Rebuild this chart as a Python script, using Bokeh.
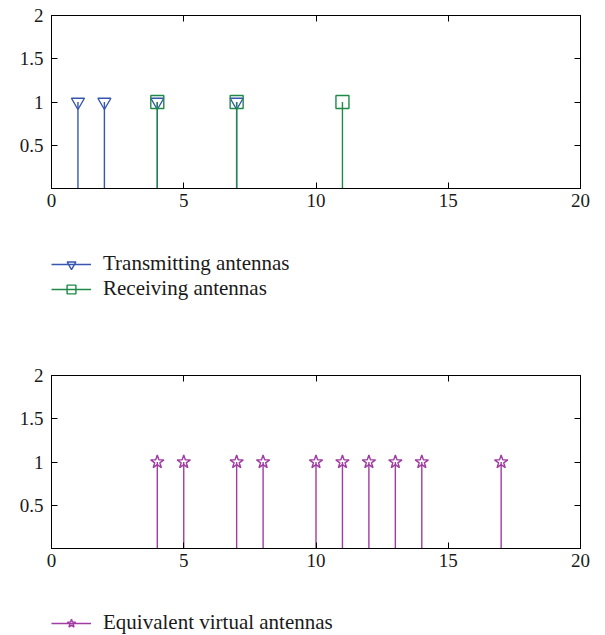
from bokeh.plotting import figure
from bokeh.models import (ColumnDataSource, Range1d, FixedTicker, LinearAxis,
                          Legend, LegendItem, NumeralTickFormatter)
from bokeh.layouts import column
from bokeh.embed import file_html
from bokeh.resources import INLINE

# ---- data ----
tx_pos = [1, 2, 4, 7]
tx_val = [1, 1, 1, 1]
rx_pos = [4, 7, 11]
rx_val = [1, 1, 1]
virt_pos = [4, 5, 7, 8, 10, 11, 12, 13, 14, 17]
virt_val = [1, 1, 1, 1, 1, 1, 1, 1, 1, 1]
x_ticks = [0, 5, 10, 15, 20]
y_ticks = [0.5, 1, 1.5, 2]

BLUE = "#3656b0"
GREEN = "#1f8a48"
PURPLE = "#a03ca2"
FONT = "Liberation Serif"
TXT = "#1a1a1a"


def make_fig(height, top, bottom):
    p = figure(width=605, height=height, output_backend="svg", toolbar_location=None,
               x_range=Range1d(0, 20), y_range=Range1d(0, 2),
               min_border_left=51, min_border_right=25,
               min_border_top=top, min_border_bottom=bottom)
    p.xgrid.visible = False
    p.ygrid.visible = False
    p.outline_line_color = "black"
    p.outline_line_width = 1
    p.background_fill_color = "white"
    p.border_fill_color = "white"
    p.xaxis.ticker = FixedTicker(ticks=x_ticks)
    p.yaxis.ticker = FixedTicker(ticks=y_ticks)
    p.yaxis.formatter = NumeralTickFormatter(format="0.[0]")
    for ax in p.xaxis + p.yaxis:
        ax.axis_line_color = "black"
        ax.major_tick_in = 6
        ax.major_tick_out = 0
        ax.major_tick_line_color = "black"
        ax.minor_tick_line_color = None
        ax.major_label_text_font = FONT
        ax.major_label_text_font_size = "19px"
        ax.major_label_text_color = TXT
    p.xaxis.major_label_standoff = 5
    p.yaxis.major_label_standoff = 8
    for ticks, side in ((x_ticks, "above"), (y_ticks, "right")):
        ax = LinearAxis(ticker=FixedTicker(ticks=ticks), major_tick_in=6, major_tick_out=0,
                        minor_tick_line_color=None, major_label_text_font_size="4px",
                        major_label_text_color=None, major_label_standoff=0,
                        axis_line_color="black")
        p.add_layout(ax, side)
    return p


def stems(p, xs, ys, color, marker, size, visible=True):
    src = ColumnDataSource(dict(x=xs, y=ys, y0=[0] * len(xs)))
    s = p.segment(x0="x", y0="y0", x1="x", y1="y", source=src,
                  line_color=color, line_width=1.4, visible=visible)
    m = p.scatter(x="x", y="y", source=src, marker=marker, size=size,
                  line_color=color, line_width=1.4, fill_color=None, visible=visible)
    return s, m


def legend_fig(height, entries, loc):
    f = figure(width=605, height=height, output_backend="svg", toolbar_location=None,
               x_axis_type=None, y_axis_type=None, x_range=Range1d(0, 1),
               y_range=Range1d(0, 1), min_border=0)
    f.xgrid.visible = False
    f.ygrid.visible = False
    f.outline_line_color = None
    items = []
    for label, xs, ys, color, marker, size in entries:
        s, m = stems(f, xs, ys, color, marker, size, visible=False)
        items.append(LegendItem(label=label, renderers=[s, m]))
    leg = Legend(items=items, location=loc, orientation="vertical",
                 padding=0, margin=0, spacing=0, glyph_width=40, glyph_height=22,
                 label_height=22, label_standoff=12, label_text_font=FONT,
                 label_text_font_size="21px", label_text_color=TXT,
                 border_line_color=None, background_fill_alpha=0,
                 inactive_fill_alpha=0)
    f.add_layout(leg, "center")
    return f


# ---- top panel ----
p1 = make_fig(220, 15, 32)
stems(p1, tx_pos, tx_val, BLUE, "inverted_triangle", 13)
stems(p1, rx_pos, rx_val, GREEN, "square", 13)
l1 = legend_fig(120, [
    ("Transmitting antennas", tx_pos, tx_val, BLUE, "inverted_triangle", 13),
    ("Receiving antennas", rx_pos, rx_val, GREEN, "square", 13),
], (0, 39))

# ---- bottom panel ----
p2 = make_fig(240, 35, 32)
stems(p2, virt_pos, virt_val, PURPLE, "star", 14)
l2 = legend_fig(55, [
    ("Equivalent virtual antennas", virt_pos, virt_val, PURPLE, "star", 14),
], (0, 0))

layout = column(p1, l1, p2, l2, spacing=0)
open("out.html", "w").write(file_html(layout, INLINE))
